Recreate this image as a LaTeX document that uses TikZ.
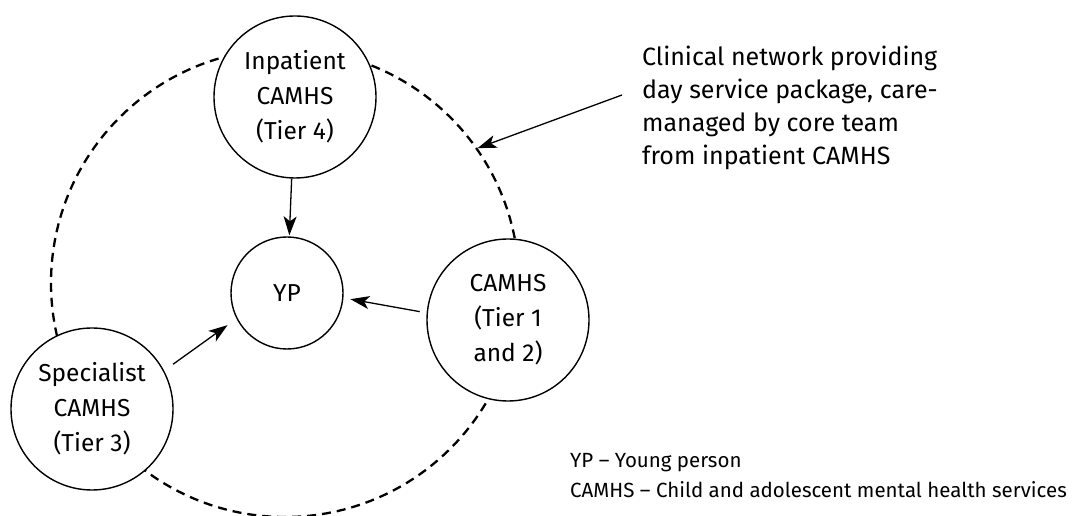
\documentclass[tikz,border=0pt]{standalone}
\usepackage{fontspec}
\setmainfont{Fira Sans}
\usetikzlibrary{arrows.meta}
\begin{document}
\begin{tikzpicture}[x=1pt,y=1pt,
  service/.style={circle,draw,line width=1.4pt,fill=white,inner sep=0pt,
    align=center,font=\fontsize{24.5}{35}\selectfont},
  ring/.style={circle,draw,line width=2.3pt,dash pattern=on 9pt off 6pt,
    inner sep=0pt,minimum size=468pt},
  feed/.style={line width=1.3pt,-{Stealth[length=19pt,width=13pt,inset=5pt]}},
  note/.style={inner sep=0pt,align=left}]
\useasboundingbox (0,0) rectangle (1091,516);

% clinical network ring, drawn first so the service circles cover it
\node[ring] (network) at (285,233) {};

% services around the young person
\node[service,minimum size=162pt] (inp) at (295,419) {Inpatient\\CAMHS\\(Tier 4)};
\node[service,minimum size=112pt] (yp) at (287,223) {YP};
\node[service,minimum size=162pt] (camhs) at (508,196) {CAMHS\\(Tier 1\\and 2)};
\node[service,minimum size=162pt] (spec) at (92,107) {Specialist\\CAMHS\\(Tier 3)};

% arrows into the young person
\draw[feed,shorten >=1pt] (inp) -- (yp);
\draw[feed,shorten <=7pt,shorten >=7pt] (camhs.175.5) -- (yp.355);
\draw[feed,shorten <=11pt,shorten >=11pt] (spec.28.5) -- (yp.207.7);

% annotation of the ring
\node[note,anchor=north west,font=\fontsize{25}{33}\selectfont] (label) at (642,470)
  {Clinical network providing\\day service package, care-\\managed by core team\\from inpatient CAMHS};
\coordinate (lead) at (622,421);
\draw[feed] (lead) -- (network.35);

% key to abbreviations
\node[note,anchor=north west,font=\fontsize{20.5}{30}\selectfont] (key) at (570,63)
  {YP -- Young person\\CAMHS -- Child and adolescent mental health services};
\end{tikzpicture}
\end{document}
